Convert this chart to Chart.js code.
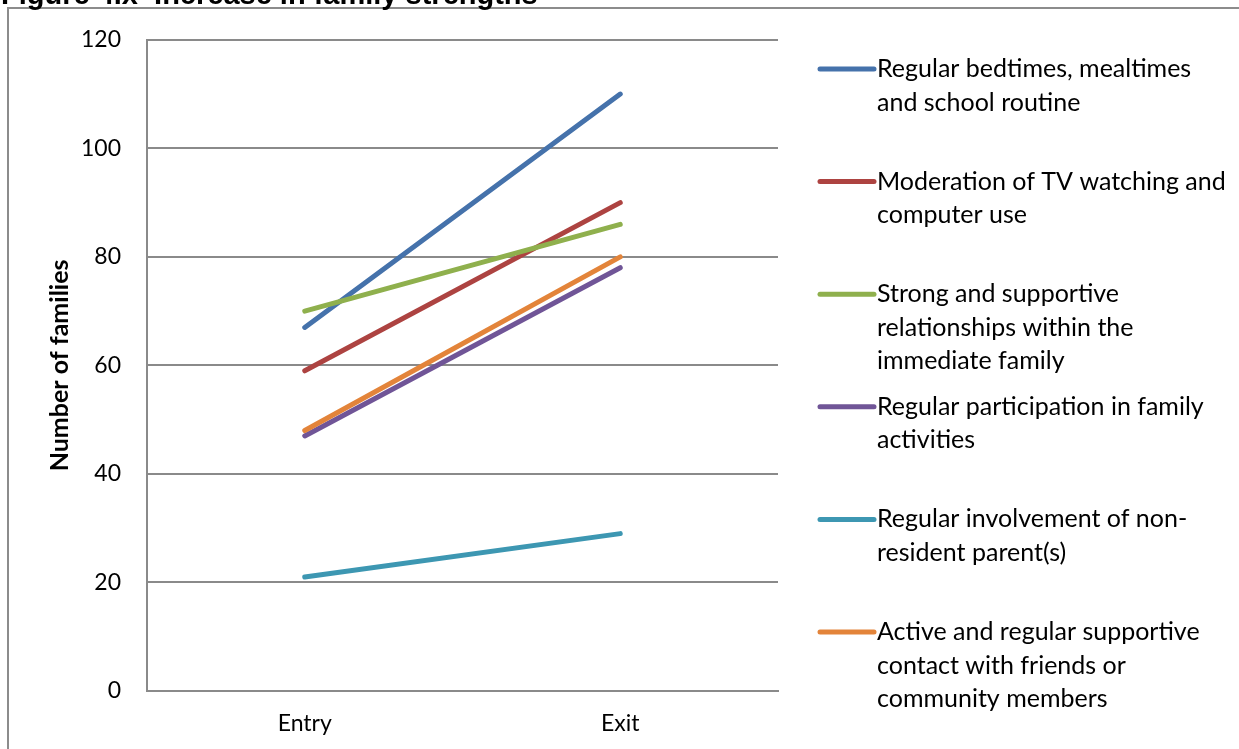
<!DOCTYPE html>
<html>
<head>
<meta charset="utf-8">
<title>Increase in family strengths</title>
<script src="https://cdn.jsdelivr.net/npm/chart.js@4"></script>
<style>
  html, body { margin: 0; padding: 0; background: #fff; overflow: hidden; }
  #wrap { position: relative; width: 1239px; height: 749px; overflow: hidden; }
  #fig-title {
    position: absolute; left: 1px; top: -20px; margin: 0;
    font: bold 29px "Liberation Sans", Arial, sans-serif; line-height: 29px;
    color: #000; white-space: nowrap; z-index: 2;
  }
  canvas { position: absolute; left: 0; top: 0; }
</style>
</head>
<body>
<div id="wrap">
  <div id="fig-title">Figure 4.x&nbsp; Increase in family strengths</div>
  <canvas id="chart" width="1239" height="749"></canvas>
</div>
<script>
// Survey points
const categories = ["Entry", "Exit"];

// Legend text, broken into the lines it is shown on
const seriesLines = [
  ["Regular bedtimes, mealtimes", "and school routine"],
  ["Moderation of TV watching and", "computer use"],
  ["Strong and supportive", "relationships within the", "immediate family"],
  ["Regular participation in family", "activities"],
  ["Regular involvement of non-", "resident parent(s)"],
  ["Active and regular supportive", "contact with friends or", "community members"]
];

// Number of families at entry and exit
const bedtimeRoutine   = [67, 110];
const screenModeration = [59, 90];
const familyRelations  = [70, 86];
const familyActivities = [47, 78];
const nonResidentParent = [21, 29];
const communityContact = [48, 80];

const seriesValues = [bedtimeRoutine, screenModeration, familyRelations,
                      familyActivities, nonResidentParent, communityContact];
const seriesColors = ["#4572AB", "#AD4341", "#8FB04D", "#705597", "#3D97B2", "#E3843A"];

// Axis ticks
const yTicks = [0, 20, 40, 60, 80, 100, 120];

const FONT = "Lato, 'Open Sans', sans-serif";
const GRID = "#8a8a8a";

const datasets = seriesValues.map((vals, i) => ({
  label: seriesLines[i].join(" ").replace("- ", "-"),
  data: vals,
  borderColor: seriesColors[i],
  backgroundColor: seriesColors[i],
  borderWidth: 5,
  borderCapStyle: "round",
  pointRadius: 0,
  pointHoverRadius: 0,
  tension: 0,
  fill: false,
  order: seriesValues.length - i   // later series sit on top
}));

// Outer frame round the whole chart
const framePlugin = {
  id: "frame",
  beforeDraw(chart) {
    const ctx = chart.ctx;
    ctx.save();
    ctx.strokeStyle = "#8c8c8c";
    ctx.lineWidth = 2;
    ctx.beginPath();
    ctx.moveTo(8, chart.height + 2);
    ctx.lineTo(8, 8);
    ctx.lineTo(chart.width + 2, 8);
    ctx.stroke();
    ctx.restore();
  }
};

// Legend on the right with wrapped labels
const sideLegend = {
  id: "sideLegend",
  afterDraw(chart) {
    const ctx = chart.ctx;
    const x0 = chart.chartArea.right + 42;
    const lineLen = 54;
    const textX = x0 + lineLen + 3;
    const firstY = 69;
    const step = 112.6;
    const lineH = 33.5;
    ctx.save();
    ctx.font = "25px " + FONT;
    ctx.fillStyle = "#000";
    ctx.textBaseline = "middle";
    ctx.textAlign = "left";
    chart.data.datasets.forEach((ds, i) => {
      const y = firstY + i * step;
      ctx.strokeStyle = ds.borderColor;
      ctx.lineWidth = 5;
      ctx.lineCap = "round";
      ctx.beginPath();
      ctx.moveTo(x0, y);
      ctx.lineTo(x0 + lineLen, y);
      ctx.stroke();
      seriesLines[i].forEach((t, k) => ctx.fillText(t, textX, y + k * lineH));
    });
    ctx.restore();
  }
};

new Chart(document.getElementById("chart"), {
  type: "line",
  data: { labels: categories, datasets },
  plugins: [framePlugin, sideLegend],
  options: {
    responsive: false,
    animation: false,
    events: [],
    layout: { padding: { left: 0, top: 37, right: 461, bottom: 0 } },
    plugins: { legend: { display: false }, tooltip: { enabled: false }, title: { display: false } },
    scales: {
      x: {
        type: "category",
        offset: true,
        grid: { display: false, drawTicks: false },
        border: { display: true, color: GRID, width: 2 },
        ticks: { color: "#000", font: { family: FONT, size: 23 }, padding: 19 },
        afterFit(scale) { scale.height = 58; }
      },
      y: {
        min: 0, max: 120,
        afterBuildTicks(scale) { scale.ticks = yTicks.map(v => ({ value: v })); },
        grid: { color: GRID, lineWidth: 2, drawTicks: false },
        border: { display: true, color: GRID, width: 2 },
        ticks: { color: "#000", font: { family: FONT, size: 23 }, padding: 26 },
        title: {
          display: true, text: "Number of families", color: "#000",
          font: { family: FONT, size: 25, weight: "bold" },
          padding: { top: 45, bottom: 0 }
        },
        afterFit(scale) { scale.width = 147; }
      }
    }
  }
});
</script>
</body>
</html>
